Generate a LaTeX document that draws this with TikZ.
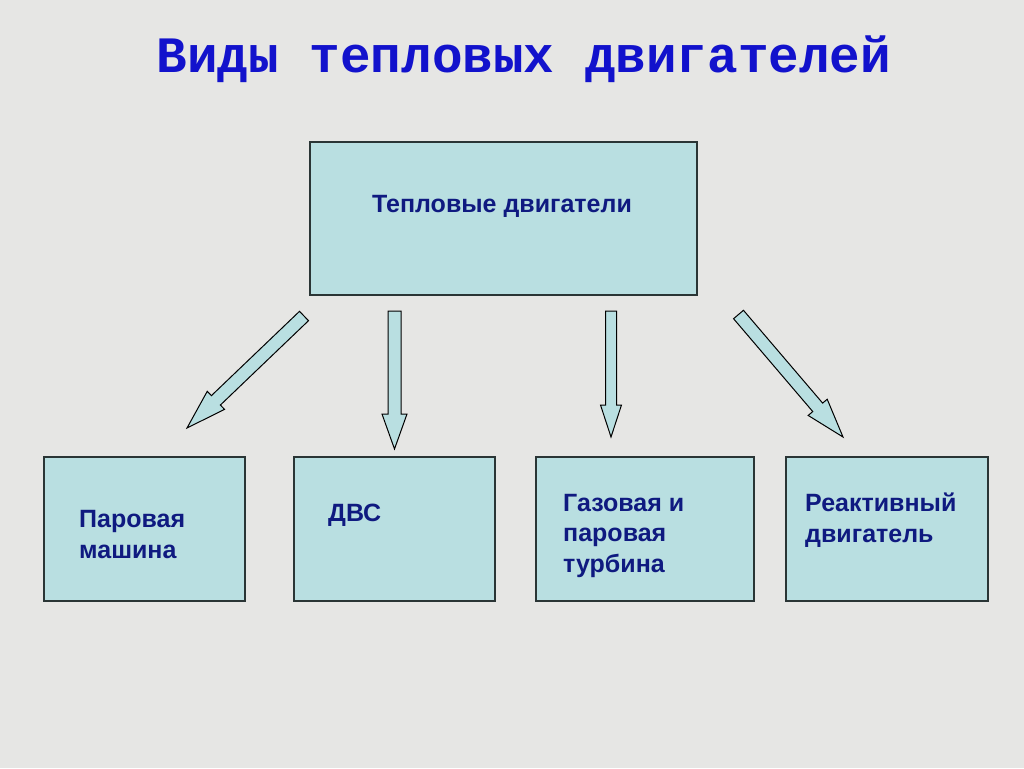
\documentclass[tikz,border=0pt]{standalone}
\usepackage{fontspec}
\setmainfont{Liberation Sans}
\newfontfamily\titlefont{Liberation Mono}
\usetikzlibrary{calc}
\definecolor{bgc}{HTML}{E6E6E4}
\definecolor{boxc}{HTML}{B9DFE1}
\definecolor{linec}{HTML}{2A3535}
\definecolor{txtc}{HTML}{0F1A80}
\definecolor{titlec}{HTML}{1212CC}
\tikzset{
  box/.style={draw=linec, line width=1.2pt, fill=boxc, rectangle, inner sep=0pt},
  lbl/.style={text=txtc, font=\fontsize{25}{30.5}\selectfont\bfseries, inner sep=0pt, align=left, anchor=base west},
  barrow/.style={draw=black, line width=1pt, fill=boxc, line join=miter},
}
\newcommand\blockarrow[5]{%
  \coordinate (ba-n) at ($(#2)!#5!(#1)$);
  \draw[barrow] ($(#1)!#3!90:(#2)$) -- ($(ba-n)!#3!90:(#2)$) -- ($(ba-n)!#4!90:(#2)$) -- (#2)
    -- ($(ba-n)!#4!-90:(#2)$) -- ($(ba-n)!#3!-90:(#2)$) -- ($(#1)!#3!-90:(#2)$) -- cycle;
}
\begin{document}
\begin{tikzpicture}[x=1pt,y=-1pt]
\fill[bgc] (0,0) rectangle (1024,768);
\useasboundingbox (0,0) rectangle (1024,768);
% title
\node[text=titlec, font=\titlefont\fontsize{51}{51}\selectfont\bfseries, inner sep=0pt, anchor=base] (title) at (524,72) {Виды тепловых двигателей};
% boxes
\node[box, minimum width=387pt, minimum height=153pt] (top) at (503.5,218.5) {};
\node[box, minimum width=201pt, minimum height=144pt] (b1) at (144.5,529) {};
\node[box, minimum width=201pt, minimum height=144pt] (b2) at (394.5,529) {};
\node[box, minimum width=218pt, minimum height=144pt] (b3) at (645,529) {};
\node[box, minimum width=202pt, minimum height=144pt] (b4) at (887,529) {};
% labels
\node[lbl, anchor=base] (ttop) at (502,212) {Тепловые двигатели};
\node[lbl] (t1) at (79,558) {Паровая\\машина};
\node[lbl] (t2) at (328,521) {ДВС};
\node[lbl] (t3) at (563,572) {Газовая и\\паровая\\турбина};
\node[lbl] (t4) at (805,542) {Реактивный\\двигатель};
% arrows
\coordinate (a1s) at (304,316); \coordinate (a1e) at (187,428);
\coordinate (a2s) at (394.5,311); \coordinate (a2e) at (394.5,449);
\coordinate (a3s) at (611,311); \coordinate (a3e) at (611,437);
\coordinate (a4s) at (738.5,314.5); \coordinate (a4e) at (843,437);
\blockarrow{a1s}{a1e}{6.5pt}{12.5pt}{40pt}
\blockarrow{a2s}{a2e}{6.5pt}{12.5pt}{35pt}
\blockarrow{a3s}{a3e}{5.5pt}{10.5pt}{32pt}
\blockarrow{a4s}{a4e}{6.5pt}{12.5pt}{39pt}
\end{tikzpicture}
\end{document}
